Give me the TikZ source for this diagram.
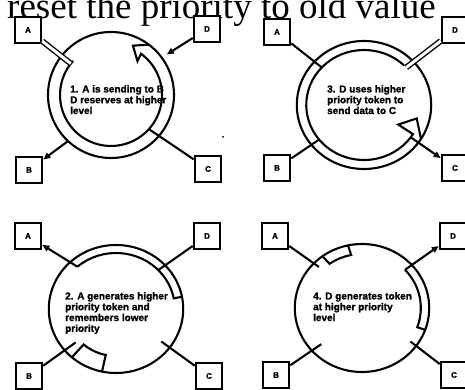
\documentclass[tikz,border=0pt]{standalone}
\usepackage{fontspec}
\setmainfont{Liberation Serif}
\setsansfont{Liberation Sans}
\newfontfamily\notefont[FakeBold=1.5]{Liberation Sans}
\usetikzlibrary{arrows.meta}

\begin{document}
\begin{tikzpicture}[x=1pt,y=1pt,
  station/.style={draw,fill=white,line width=2.6pt,minimum size=26pt,inner sep=0pt,font=\notefont\bfseries\fontsize{8}{8}\selectfont},
  ring/.style={line width=2.1pt},
  link/.style={line width=2.1pt},
  pipe/.style={double,double distance=3pt,line width=1.4pt},
  toarrow/.style={line width=2.1pt,-{Triangle[open,length=7pt,width=6pt]}},
  note/.style={anchor=north west,inner sep=0pt,align=left,font=\notefont\bfseries\fontsize{10}{10.8}\selectfont}]

  \useasboundingbox (0,0) rectangle (465,390);

  \node (title) [anchor=base west,inner sep=0pt,font=\fontsize{37}{37}\selectfont] at (7,371) {reset the priority to old value};

  % 1: A sends, D reserves
  \begin{scope}[shift={(111,295)}]
    \draw[ring] (0,0) circle (63);
    \draw[ring] (138:51) arc[start angle=138,end angle=414,radius=51] -- (52:43) -- (66:54) -- (53:63);
    \coordinate (a1) at (142:51);
    \coordinate (b1) at (227:63);
    \coordinate (c1) at (-42:51);
    \coordinate (d1) at (36:69);
  \end{scope}
  \node[station] (A1) at (28,360) {A};
  \node[station] (D1) at (207,361) {D};
  \node[station] (B1) at (29,220) {B};
  \node[station] (C1) at (208,221) {C};
  \draw[pipe] (A1) -- (a1);
  \draw[toarrow] (b1) -- (B1);
  \draw[link] (C1) -- (c1);
  \draw[toarrow] (D1) -- (d1);
  \node[note] (t1) at (70,305) {1. A is sending to B\\D reserves at higher\\level};
  \fill (223,253) circle (1);

  % 3: D sends with the higher token
  \begin{scope}[shift={(364,285)},xscale=1.05]
    \draw[ring] (0,0) circle (64);
    \draw[ring] (46:55) arc[start angle=46,end angle=328,radius=55] -- (329:38) -- (345:52) -- (328:64);
    \coordinate (a3) at (137:55);
    \coordinate (b3) at (219:55);
    \coordinate (c3) at (-36:55);
    \coordinate (d3) at (43:55);
  \end{scope}
  \node[station] (A3) at (277,358) {A};
  \node[station] (D3) at (455,360) {D};
  \node[station] (B3) at (277,222) {B};
  \node[station] (C3) at (455,222) {C};
  \draw[link] (A3) -- (a3);
  \draw[link] (B3) -- (b3);
  \draw[toarrow] (c3) -- (C3);
  \draw[pipe] (D3) -- (d3);
  \node[note] (t3) at (327,305) {3. D uses higher\\priority token to\\send data to C};

  % 2: A makes a higher token
  \begin{scope}[shift={(116,81)},xscale=1.05]
    \draw[ring] (0,0) circle (64);
    \draw[ring] (131:56) arc[start angle=131,end angle=11,radius=56] -- (11:64);
    \draw[ring] (229:64) -- (229:47) arc[start angle=229,end angle=258,radius=47] -- (258:64);
    \coordinate (a2) at (131:56);
    \coordinate (b2) at (221:51);
    \coordinate (c2) at (-37:54);
    \coordinate (d2) at (44:56);
  \end{scope}
  \node[station] (A2) at (28,154) {A};
  \node[station] (D2) at (207,154) {D};
  \node[station] (B2) at (29,14) {B};
  \node[station] (C2) at (209,14) {C};
  \draw[toarrow] (a2) -- (A2);
  \draw[link] (B2) -- (b2);
  \draw[link] (C2) -- (c2);
  \draw[link] (D2) -- (d2);
  \node[note] (t2) at (65,98) {2. A generates higher\\priority token and\\remembers lower\\priority};

  % 4: D makes a token at the higher level
  \begin{scope}[shift={(362,82)},xscale=1.05]
    \draw[ring] (0,0) circle (64);
    \draw[ring] (43:56) arc[start angle=43,end angle=-20,radius=56] -- (-20:64);
    \draw[ring] (126:64) -- (125:54) arc[start angle=125,end angle=101,radius=54] -- (102:64);
    \coordinate (a4) at (135:58);
    \coordinate (b4) at (223:53);
    \coordinate (c4) at (-36:57);
    \coordinate (d4) at (43:56);
  \end{scope}
  \node[station] (A4) at (275,154) {A};
  \node[station] (D4) at (453,154) {D};
  \node[station] (B4) at (276,15) {B};
  \node[station] (C4) at (454,15) {C};
  \draw[link] (A4) -- (a4);
  \draw[link] (B4) -- (b4);
  \draw[link] (C4) -- (c4);
  \draw[toarrow] (d4) -- (D4);
  \node[note] (t4) at (313,98) {4. D generates token\\at higher priority\\level};
\end{tikzpicture}
\end{document}
